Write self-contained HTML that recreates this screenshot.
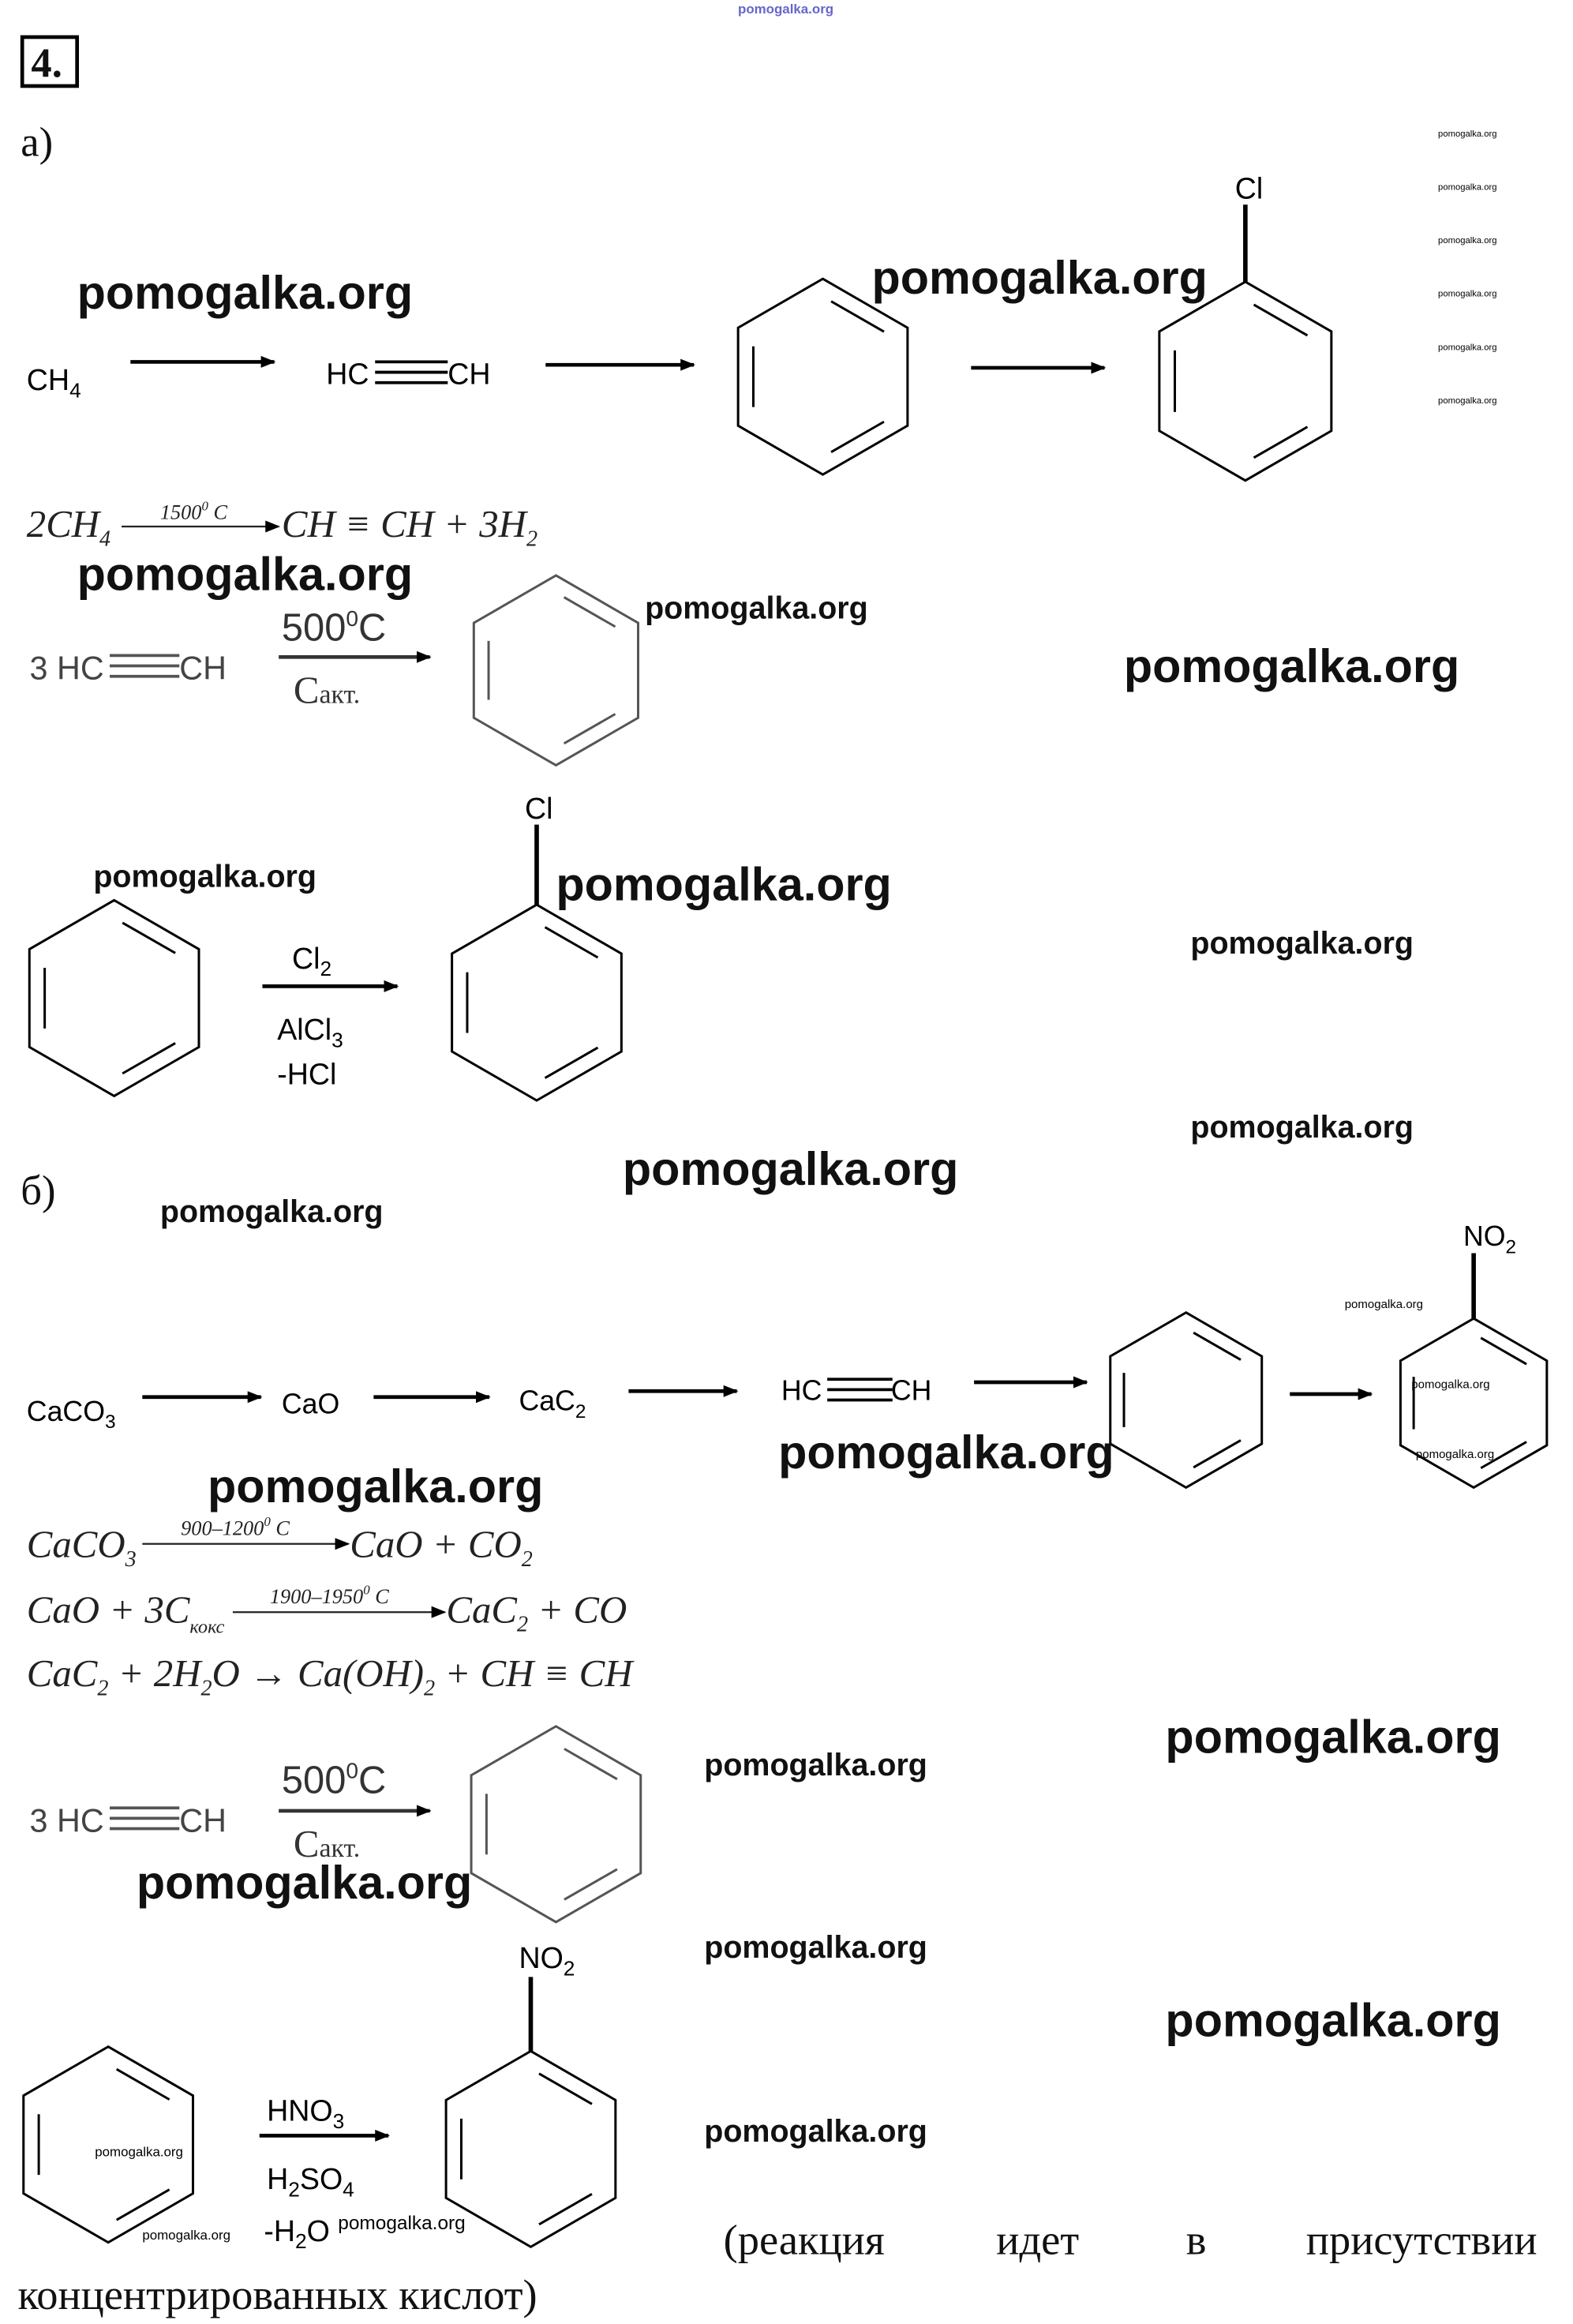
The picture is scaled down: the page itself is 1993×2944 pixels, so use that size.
<!DOCTYPE html>
<html><head><meta charset="utf-8"><style>
html,body{margin:0;padding:0;background:#fff}
svg{display:block}
.wm{font-family:"Liberation Sans",sans-serif;font-weight:bold;fill:#111}
.ch{font-family:"Liberation Sans",sans-serif;fill:#000}
.eq{font-family:"Liberation Serif",serif;font-style:italic;fill:#222}
.ru{font-family:"Liberation Serif","Noto Serif CJK SC",serif;fill:#111}
</style></head><body>
<svg width="1993" height="2944" viewBox="0 0 1061 1567" preserveAspectRatio="none" xmlns="http://www.w3.org/2000/svg">
<defs>
<marker id="ah" markerWidth="10" markerHeight="8" refX="9" refY="4" orient="auto" markerUnits="userSpaceOnUse"><polygon points="0,0 10,4 0,8" fill="#000"/></marker>
<g id="bz">
<polygon points="0,-1 0.866,-0.5 0.866,0.5 0,1 -0.866,0.5 -0.866,-0.5" fill="none" stroke="currentColor" stroke-width="3" vector-effect="non-scaling-stroke"/>
<line x1="0.085" y1="-0.77" x2="0.625" y2="-0.46" stroke="currentColor" stroke-width="3" vector-effect="non-scaling-stroke"/>
<line x1="0.625" y1="0.46" x2="0.085" y2="0.77" stroke="currentColor" stroke-width="3" vector-effect="non-scaling-stroke"/>
<line x1="-0.71" y1="0.31" x2="-0.71" y2="-0.31" stroke="currentColor" stroke-width="3" vector-effect="non-scaling-stroke"/>
</g>
</defs>

<text x="530" y="9" class="wm" font-size="9" style="fill:#66c" text-anchor="middle" font-weight="normal">pomogalka.org</text>
<rect x="15" y="25" width="37" height="33" fill="none" stroke="#000" stroke-width="2.5"/>
<text x="21" y="52" class="ru" font-size="28" font-weight="bold">4.</text>
<text x="14" y="105" class="ru" font-size="28">а)</text>

<g class="ch" font-size="6">
<text x="970" y="92">pomogalka.org</text><text x="970" y="128">pomogalka.org</text><text x="970" y="164">pomogalka.org</text>
<text x="970" y="200">pomogalka.org</text><text x="970" y="236">pomogalka.org</text><text x="970" y="272">pomogalka.org</text>
</g>

<text x="18" y="263" class="ch" font-size="20">CH<tspan font-size="14" dy="5">4</tspan></text>
<line x1="88" y1="244" x2="185" y2="244" stroke="#000" stroke-width="2.5" marker-end="url(#ah)"/>
<text x="220" y="259" class="ch" font-size="20">HC</text>
<g stroke="#000" stroke-width="2"><line x1="253" y1="244" x2="302" y2="244"/><line x1="253" y1="251" x2="302" y2="251"/><line x1="253" y1="258" x2="302" y2="258"/></g>
<text x="302" y="259" class="ch" font-size="20">CH</text>
<line x1="368" y1="246" x2="468" y2="246" stroke="#000" stroke-width="2.5" marker-end="url(#ah)"/>
<use href="#bz" transform="translate(555,254) scale(66)" color="#000"/>
<line x1="655" y1="248" x2="745" y2="248" stroke="#000" stroke-width="2.5" marker-end="url(#ah)"/>
<use href="#bz" transform="translate(840,257) scale(67)" color="#000"/>
<line x1="840" y1="190" x2="840" y2="138" stroke="#000" stroke-width="3"/>
<text x="833" y="134" class="ch" font-size="20">Cl</text>

<text x="18" y="362" class="eq" font-size="26">2CH<tspan font-size="15" dy="6">4</tspan></text>
<text x="108" y="350" class="eq" font-size="14">1500<tspan font-size="9" dy="-6">0</tspan><tspan dy="6"> C</tspan></text>
<line x1="82" y1="355" x2="188" y2="355" stroke="#222" stroke-width="1.2" marker-end="url(#ah)"/>
<text x="190" y="362" class="eq" font-size="26">CH ≡ CH + 3H<tspan font-size="15" dy="6">2</tspan></text>

<text x="20" y="458" class="ch" font-size="22" style="fill:#444">3 HC</text>
<g stroke="#555" stroke-width="2"><line x1="74" y1="442" x2="121" y2="442"/><line x1="74" y1="449" x2="121" y2="449"/><line x1="74" y1="456" x2="121" y2="456"/></g>
<text x="121" y="458" class="ch" font-size="22" style="fill:#444">CH</text>
<text x="190" y="432" class="ch" font-size="26" style="fill:#333">500<tspan font-size="15" dy="-10">0</tspan><tspan dy="10">C</tspan></text>
<line x1="188" y1="443" x2="290" y2="443" stroke="#333" stroke-width="2.5" marker-end="url(#ah)"/>
<text x="198" y="474" class="ru" font-size="26" style="fill:#333">С<tspan font-size="18">акт.</tspan></text>
<use href="#bz" transform="translate(375,452) scale(64)" color="#555"/>

<use href="#bz" transform="translate(77,673) scale(66)" color="#000"/>
<text x="197" y="653" class="ch" font-size="20">Cl<tspan font-size="14" dy="5">2</tspan></text>
<line x1="177" y1="665" x2="268" y2="665" stroke="#000" stroke-width="2.5" marker-end="url(#ah)"/>
<text x="187" y="701" class="ch" font-size="20">AlCl<tspan font-size="14" dy="5">3</tspan></text>
<text x="187" y="731" class="ch" font-size="20">-HCl</text>
<use href="#bz" transform="translate(362,676) scale(66)" color="#000"/>
<line x1="362" y1="610" x2="362" y2="556" stroke="#000" stroke-width="3"/>
<text x="354" y="552" class="ch" font-size="20">Cl</text>

<text x="14" y="812" class="ru" font-size="28">б)</text>

<text x="18" y="958" class="ch" font-size="19">CaCO<tspan font-size="13" dy="5">3</tspan></text>
<line x1="96" y1="942" x2="176" y2="942" stroke="#000" stroke-width="2.5" marker-end="url(#ah)"/>
<text x="190" y="953" class="ch" font-size="19">CaO</text>
<line x1="252" y1="942" x2="330" y2="942" stroke="#000" stroke-width="2.5" marker-end="url(#ah)"/>
<text x="350" y="951" class="ch" font-size="19">CaC<tspan font-size="13" dy="5">2</tspan></text>
<line x1="424" y1="938" x2="497" y2="938" stroke="#000" stroke-width="2.5" marker-end="url(#ah)"/>
<text x="527" y="944" class="ch" font-size="19">HC</text>
<g stroke="#000" stroke-width="2"><line x1="558" y1="930" x2="602" y2="930"/><line x1="558" y1="937" x2="602" y2="937"/><line x1="558" y1="944" x2="602" y2="944"/></g>
<text x="601" y="944" class="ch" font-size="19">CH</text>
<line x1="657" y1="932" x2="733" y2="932" stroke="#000" stroke-width="2.5" marker-end="url(#ah)"/>
<use href="#bz" transform="translate(800,944) scale(59)" color="#000"/>
<line x1="870" y1="940" x2="925" y2="940" stroke="#000" stroke-width="2.5" marker-end="url(#ah)"/>
<use href="#bz" transform="translate(994,946) scale(57)" color="#000"/>
<line x1="994" y1="889" x2="994" y2="845" stroke="#000" stroke-width="3"/>
<text x="987" y="840" class="ch" font-size="19">NO<tspan font-size="13" dy="5">2</tspan></text>
<g class="ch" font-size="8"><text x="907" y="882">pomogalka.org</text><text x="952" y="936">pomogalka.org</text><text x="955" y="983">pomogalka.org</text></g>

<text x="18" y="1050" class="eq" font-size="26">CaCO<tspan font-size="15" dy="6">3</tspan></text>
<text x="122" y="1035" class="eq" font-size="14" font-style="normal">900–1200<tspan font-size="9" dy="-6">0</tspan><tspan dy="6"> C</tspan></text>
<line x1="96" y1="1041" x2="235" y2="1041" stroke="#222" stroke-width="1.2" marker-end="url(#ah)"/>
<text x="236" y="1050" class="eq" font-size="26">CaO + CO<tspan font-size="15" dy="6">2</tspan></text>
<text x="18" y="1094" class="eq" font-size="26">CaO + 3C<tspan font-size="13" dy="7">кокс</tspan></text>
<text x="182" y="1081" class="eq" font-size="14" font-style="normal">1900–1950<tspan font-size="9" dy="-6">0</tspan><tspan dy="6"> C</tspan></text>
<line x1="157" y1="1087" x2="300" y2="1087" stroke="#222" stroke-width="1.2" marker-end="url(#ah)"/>
<text x="301" y="1094" class="eq" font-size="26">CaC<tspan font-size="15" dy="6">2</tspan><tspan dy="-6"> + CO</tspan></text>
<text x="18" y="1137" class="eq" font-size="26">CaC<tspan font-size="15" dy="6">2</tspan><tspan dy="-6"> + 2H</tspan><tspan font-size="15" dy="6">2</tspan><tspan dy="-6">O → Ca(OH)</tspan><tspan font-size="15" dy="6">2</tspan><tspan dy="-6"> + CH ≡ CH</tspan></text>

<text x="20" y="1235" class="ch" font-size="22" style="fill:#444">3 HC</text>
<g stroke="#555" stroke-width="2"><line x1="74" y1="1219" x2="121" y2="1219"/><line x1="74" y1="1226" x2="121" y2="1226"/><line x1="74" y1="1233" x2="121" y2="1233"/></g>
<text x="121" y="1235" class="ch" font-size="22" style="fill:#444">CH</text>
<text x="190" y="1209" class="ch" font-size="26" style="fill:#333">500<tspan font-size="15" dy="-10">0</tspan><tspan dy="10">C</tspan></text>
<line x1="188" y1="1221" x2="290" y2="1221" stroke="#333" stroke-width="2.5" marker-end="url(#ah)"/>
<text x="198" y="1252" class="ru" font-size="26" style="fill:#333">С<tspan font-size="18">акт.</tspan></text>
<use href="#bz" transform="translate(375,1230) scale(66)" color="#555"/>

<use href="#bz" transform="translate(73,1446) scale(66)" color="#000"/>
<text x="180" y="1430" class="ch" font-size="20">HNO<tspan font-size="14" dy="5">3</tspan></text>
<line x1="175" y1="1440" x2="262" y2="1440" stroke="#000" stroke-width="2.5" marker-end="url(#ah)"/>
<text x="180" y="1476" class="ch" font-size="20">H<tspan font-size="14" dy="5">2</tspan><tspan dy="-5">SO</tspan><tspan font-size="14" dy="5">4</tspan></text>
<text x="178" y="1511" class="ch" font-size="20">-H<tspan font-size="14" dy="5">2</tspan><tspan dy="-5">O</tspan></text>
<use href="#bz" transform="translate(358,1449) scale(66)" color="#000"/>
<line x1="358" y1="1383" x2="358" y2="1333" stroke="#000" stroke-width="3"/>
<text x="350" y="1327" class="ch" font-size="20">NO<tspan font-size="14" dy="5">2</tspan></text>
<g class="ch" font-size="9"><text x="64" y="1454">pomogalka.org</text><text x="96" y="1510">pomogalka.org</text></g>
<text x="228" y="1503" class="ch" font-size="13">pomogalka.org</text>

<text y="1520" class="ru" font-size="29"><tspan x="488">(реакция</tspan><tspan x="672">идет</tspan><tspan x="800">в</tspan><tspan x="881">присутствии</tspan></text>
<text x="12" y="1557" class="ru" font-size="29">концентрированных кислот)</text>

<g class="wm" font-size="31.6">
<text x="52" y="208">pomogalka.org</text>
<text x="588" y="198">pomogalka.org</text>
<text x="52" y="398">pomogalka.org</text>
<text x="758" y="460">pomogalka.org</text>
<text x="375" y="607">pomogalka.org</text>
<text x="420" y="799">pomogalka.org</text>
<text x="140" y="1013">pomogalka.org</text>
<text x="525" y="990">pomogalka.org</text>
<text x="786" y="1182">pomogalka.org</text>
<text x="92" y="1280">pomogalka.org</text>
<text x="786" y="1373">pomogalka.org</text>
</g>
<g class="wm" font-size="21">
<text x="435" y="417">pomogalka.org</text>
<text x="63" y="598">pomogalka.org</text>
<text x="803" y="643">pomogalka.org</text>
<text x="803" y="767">pomogalka.org</text>
<text x="108" y="824">pomogalka.org</text>
<text x="475" y="1197">pomogalka.org</text>
<text x="475" y="1320">pomogalka.org</text>
<text x="475" y="1444">pomogalka.org</text>
</g>
</svg>
</body></html>
